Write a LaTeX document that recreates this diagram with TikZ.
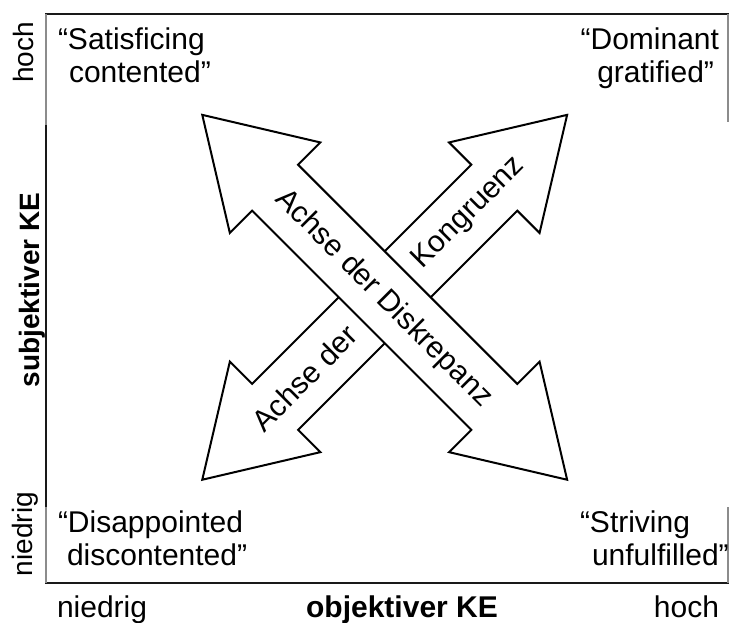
\documentclass[tikz,border=0pt]{standalone}
\usepackage{fontspec}
\setmainfont{Liberation Sans}
\begin{document}
\begin{tikzpicture}[x=1pt,y=-1pt,
  lbl/.style={font=\fontsize{30}{35}\selectfont, inner sep=0pt, outer sep=0pt},
  rotlbl/.style={font=\fontsize{28}{33}\selectfont, inner sep=0pt, outer sep=0pt},
  boldlbl/.style={font=\fontsize{30}{35}\selectfont\bfseries, inner sep=0pt, outer sep=0pt},
  rotboldlbl/.style={font=\fontsize{28}{33}\selectfont\bfseries, inner sep=0pt, outer sep=0pt},
  arrowlbl/.style={font=\fontsize{30}{35}\selectfont, inner sep=0pt, outer sep=0pt},
  arrowbody/.style={draw=black, fill=white, line width=2pt, line join=miter},
  frameline/.style={line width=2pt, draw=black!90},
  grayline/.style={line width=2pt, draw=black!45}]
\useasboundingbox (0,0) rectangle (729,623);

% frame
\draw[frameline] (45,14) -- (729,14);
\draw[frameline] (45,583) -- (729,583);
\draw[grayline] (46,14) -- (46,125);
\draw[frameline] (46,125) -- (46,507);
\draw[grayline] (46,507) -- (46,583);
\draw[grayline] (728,14) -- (728,122);
\draw[grayline] (728,507) -- (728,583);

% axis of congruence (behind)
\begin{scope}[shift={(384.7,297.3)}, rotate=45]
  \draw[arrowbody] (-258,0) -- (-155,64) -- (-155,32.5) -- (155,32.5) -- (155,64) -- (258,0)
    -- (155,-64) -- (155,-32.5) -- (-155,-32.5) -- (-155,-64) -- cycle;
\end{scope}
% axis of discrepancy (front)
\begin{scope}[shift={(384.7,297.3)}, rotate=-45]
  \draw[arrowbody] (-258,0) -- (-155,64) -- (-155,32.5) -- (155,32.5) -- (155,64) -- (258,0)
    -- (155,-64) -- (155,-32.5) -- (-155,-32.5) -- (-155,-64) -- cycle;
\end{scope}

% arrow labels
\node[arrowlbl, rotate=45] (kong) at (469,213) {Kongruenz};
\node[arrowlbl, rotate=45] (achse) at (304.5,378) {Achse der};
\node[arrowlbl, rotate=-45] (diskr) at (383.5,298.5) {Achse der Diskrepanz};

% quadrant labels
\node[lbl, anchor=base west] (tla) at (58,50) {“Satisficing};
\node[lbl, anchor=base west] (tlb) at (69,83) {contented”};
\node[lbl, anchor=base east] (tra) at (719,50) {“Dominant};
\node[lbl, anchor=base east] (trb) at (714,83) {gratified”};
\node[lbl, anchor=base west] (bla) at (58,532) {“Disappointed};
\node[lbl, anchor=base west] (blb) at (67,565) {discontented”};
\node[lbl, anchor=base west] (bra) at (580,532) {“Striving};
\node[lbl, anchor=base west] (brb) at (592,565) {unfulfilled”};

% axis labels
\node[rotlbl, anchor=base, rotate=90] (yhi) at (34,52.5) {hoch};
\node[rotboldlbl, anchor=base, rotate=90] (ytitle) at (39,290) {subjektiver KE};
\node[rotlbl, anchor=base, rotate=90] (ylo) at (32,534) {niedrig};
\node[lbl, anchor=base west] (xlo) at (57,617) {niedrig};
\node[boldlbl, anchor=base] (xtitle) at (402,617) {objektiver KE};
\node[lbl, anchor=base east] (xhi) at (719,617) {hoch};
\end{tikzpicture}
\end{document}
